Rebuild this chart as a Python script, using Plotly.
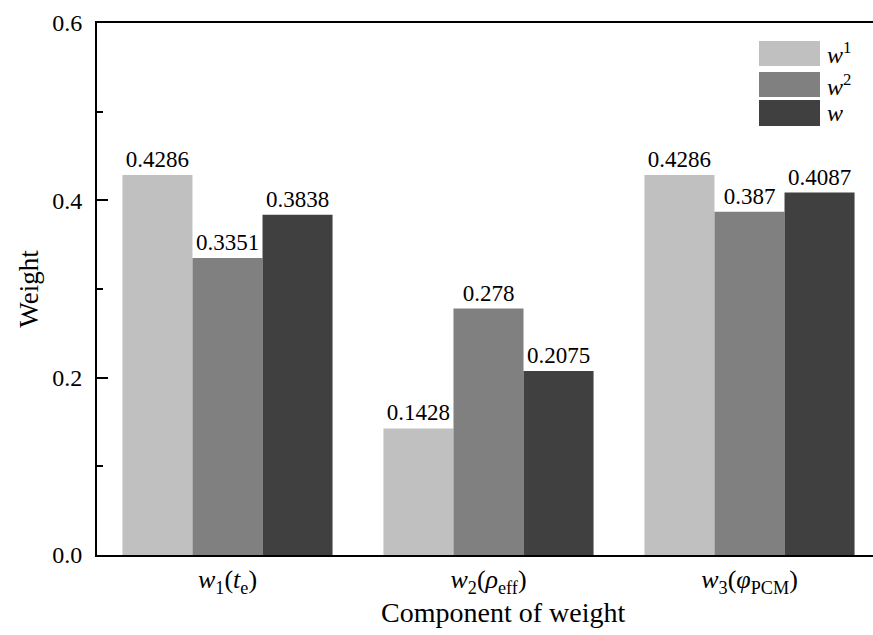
import plotly.graph_objects as go

# Components and weights
categories = ["<i>w</i><sub>1</sub>(<i>t</i><sub>e</sub>)",
              "<i>w</i><sub>2</sub>(<i>ρ</i><sub>eff</sub>)",
              "<i>w</i><sub>3</sub>(<i>φ</i><sub>PCM</sub>)"]
series_names = ["<i>w</i><sup>1</sup>", "<i>w</i><sup>2</sup>", "<i>w</i>"]
w1_values = [0.4286, 0.1428, 0.4286]
w2_values = [0.3351, 0.278, 0.387]
w_values = [0.3838, 0.2075, 0.4087]
y_ticks = [0.0, 0.2, 0.4, 0.6]

colors = ["#c0c0c0", "#808080", "#404040"]
FONT = "'Liberation Serif', 'Times New Roman', Times, serif"

W, H = 873, 635
L, R, T, B = 97, 0, 23, 80
plot_w = W - L - R
cat_px = 261.0  # pixel spacing between category centres

fig = go.Figure()
x_idx = list(range(len(categories)))
for name, vals, col in zip(series_names, [w1_values, w2_values, w_values], colors):
    fig.add_trace(go.Bar(
        x=x_idx, y=vals, name=name,
        marker=dict(color=col, line=dict(width=0)),
        text=[str(v) for v in vals],
        textposition="outside",
        constraintext="none",
        cliponaxis=False,
        textfont=dict(family=FONT, size=23, color="black"),
        showlegend=False,
    ))

fig.update_layout(
    width=W, height=H,
    margin=dict(l=L, r=R, t=T, b=B, pad=0),
    paper_bgcolor="white", plot_bgcolor="white",
    barmode="group", bargap=0.195, bargroupgap=0,
    font=dict(family=FONT, color="black"),
)

fig.update_xaxes(
    range=[-0.5, -0.5 + plot_w / cat_px],
    tickmode="array", tickvals=x_idx, ticktext=categories,
    tickfont=dict(family=FONT, size=26),
    ticklabelstandoff=0,
    showline=True, linecolor="black", linewidth=2, mirror=True,
    ticks="", showgrid=False, zeroline=False,
)
fig.update_yaxes(
    range=[0, 0.6],
    tickmode="array", tickvals=y_ticks, tickformat=".1f",
    tickfont=dict(family=FONT, size=24),
    ticks="inside", ticklen=11, tickwidth=2, tickcolor="black",
    minor=dict(dtick=0.1, ticks="inside", ticklen=6, tickwidth=2, tickcolor="black"),
    ticklabelstandoff=8,
    showline=True, linecolor="black", linewidth=2,
    showgrid=False, zeroline=False,
    title=dict(text="Weight", font=dict(family=FONT, size=27), standoff=6),
)

def px_x(px):
    return (px - L) / plot_w

def px_y(py):
    return (H - B - py) / (H - T - B)

# x-axis title placed just under the category labels
fig.add_annotation(xref="paper", yref="paper", x=px_x(503), y=px_y(612),
                   text="Component of weight", showarrow=False,
                   xanchor="center", yanchor="middle",
                   font=dict(family=FONT, size=28, color="black"))

# Legend drawn as swatches plus labels in the upper right corner
swatches = [(41, 66), (72, 97), (100, 126)]
for (y0, y1), col, name in zip(swatches, colors, series_names):
    fig.add_shape(type="rect", xref="paper", yref="paper",
                  x0=px_x(759), x1=px_x(820), y0=px_y(y1), y1=px_y(y0),
                  fillcolor=col, line=dict(width=0))
    fig.add_annotation(xref="paper", yref="paper", x=px_x(825), y=px_y((y0 + y1) / 2),
                       text=name, showarrow=False, xanchor="left", yanchor="middle",
                       font=dict(family=FONT, size=24, color="black"))

fig.write_html("out.html")
